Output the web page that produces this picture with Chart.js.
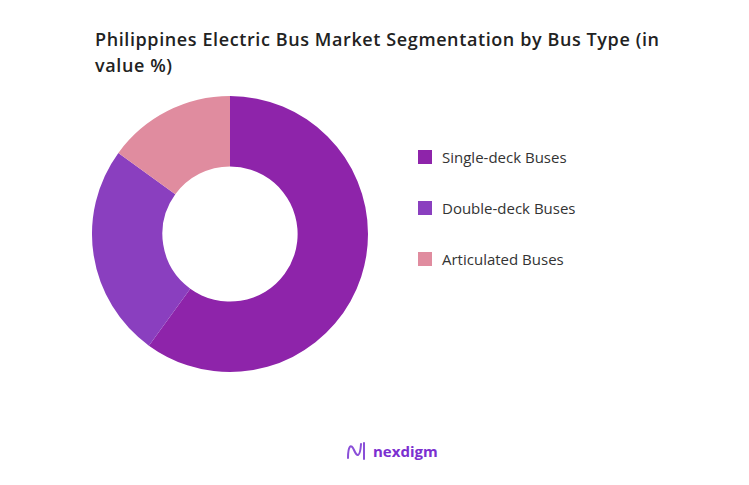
<!DOCTYPE html>
<html>
<head>
<meta charset="utf-8">
<script src="https://cdn.jsdelivr.net/npm/chart.js@4"></script>
<style>
  body { margin: 0; width: 749px; height: 485px; background: #fff; font-family: "Open Sans", sans-serif; position: relative; overflow: hidden; }
  #title { position: absolute; left: 95px; top: 26px; width: 590px; font-size: 18px; font-weight: 600; letter-spacing: 0.6px; color: #222; line-height: 26px; }
  #wrap { position: absolute; left: 88px; top: 92px; width: 284px; height: 284px; }
  #legend { position: absolute; left: 418px; top: 147px; font-size: 15px; color: #333; }
  .item { height: 51px; display: flex; align-items: flex-start; }
  .box { width: 14px; height: 14px; margin: 3px 10px 0 0; }
  #logo { position: absolute; left: 345px; top: 440px; display: flex; align-items: center; color: #7b2fd0; font-weight: 700; font-size: 15px; }
</style>
</head>
<body>
<div id="title">Philippines Electric Bus Market Segmentation by Bus Type (in value %)</div>
<div id="wrap"><canvas id="chart"></canvas></div>
<div id="legend"></div>
<div id="logo">
  <svg width="22" height="22" viewBox="0 0 22 22"><path d="M3 18 C3 6 6 3 9 10 C12 17 15 18 16 4 M19 3 L19 19" stroke="#8a4fd8" stroke-width="2" fill="none" stroke-linecap="round"/></svg>
  <span style="margin-left:6px">nexdigm</span>
</div>
<script>
const categories = ['Single-deck Buses', 'Double-deck Buses', 'Articulated Buses'];
const shares = [60, 25, 15];
const colors = ['#8e24aa', '#8a3fbf', '#e08c9f'];

const legend = document.getElementById('legend');
categories.forEach((c, i) => {
  const d = document.createElement('div');
  d.className = 'item';
  d.innerHTML = `<div class="box" style="background:${colors[i]}"></div><span>${c}</span>`;
  legend.appendChild(d);
});

new Chart(document.getElementById('chart'), {
  type: 'doughnut',
  data: {
    labels: categories,
    datasets: [{ data: shares, backgroundColor: colors, borderWidth: 0 }]
  },
  options: {
    responsive: true,
    maintainAspectRatio: false,
    animation: false,
    cutout: '49%',
    layout: { padding: 4 },
    plugins: { legend: { display: false }, tooltip: { enabled: false } }
  }
});
</script>
</body>
</html>
